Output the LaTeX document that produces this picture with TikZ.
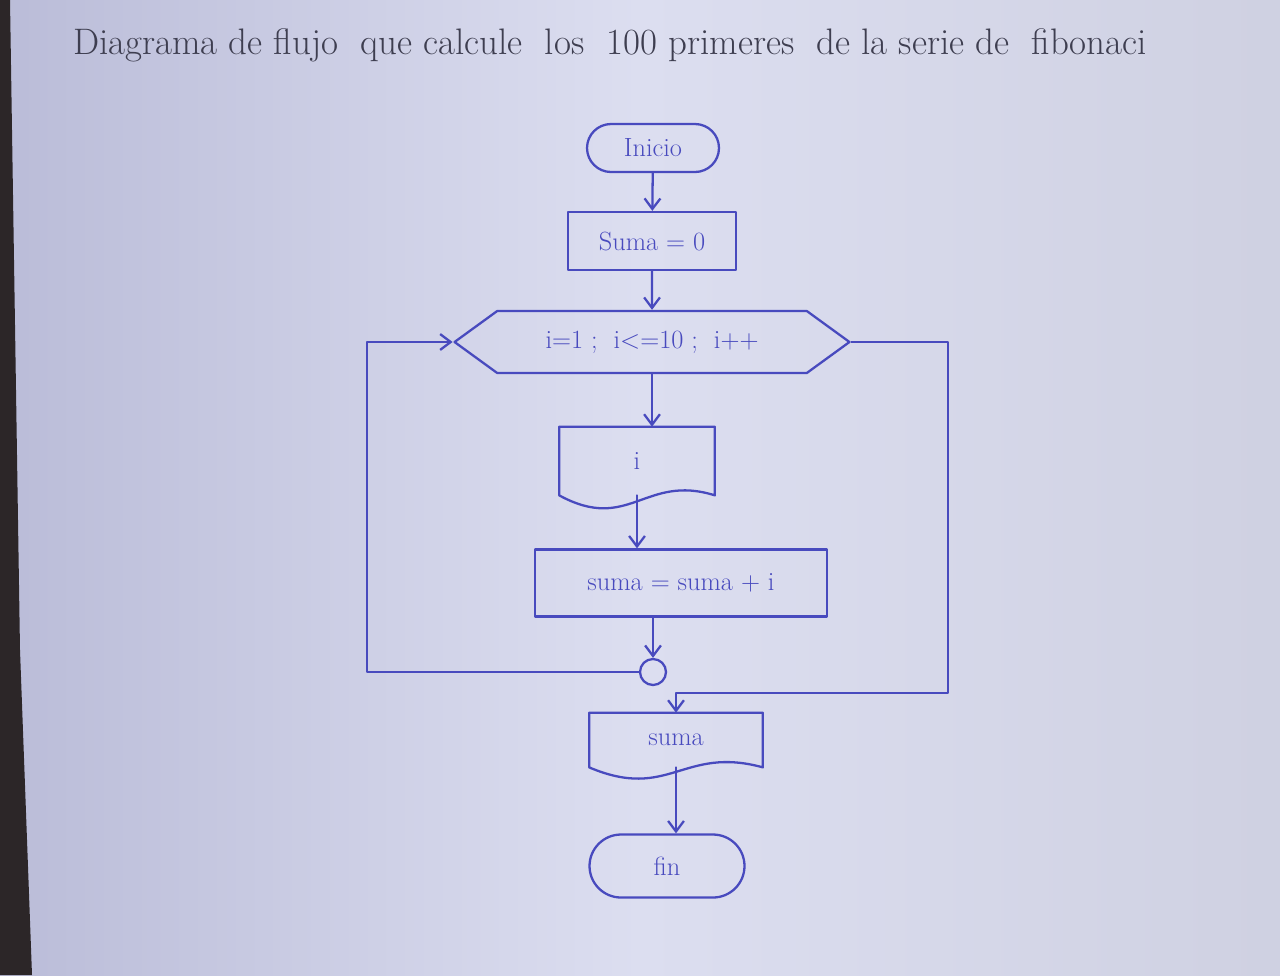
\documentclass[tikz,border=0pt]{standalone}
\usetikzlibrary{shapes.misc,shapes.symbols,arrows.meta}
\definecolor{pen}{RGB}{72,74,190}
\definecolor{ink}{RGB}{62,62,80}
\definecolor{paper}{RGB}{220,222,240}
\definecolor{paperdark}{RGB}{186,188,216}
\definecolor{wood}{RGB}{44,38,40}
\begin{document}
\begin{tikzpicture}[x=0.02cm,y=-0.02cm,line join=round,line cap=round,>={Straight Barb[length=6pt,width=9pt]},
	pen line/.style={draw=pen,line width=1.3pt},
	every node/.style={text=pen,font=\fontsize{15}{18}\selectfont}]
\tikzset{terminal/.style={pen line,rounded rectangle,inner sep=0pt},
	process/.style={pen line,rectangle,inner sep=0pt},
	loopbox/.style={pen line,signal,signal to=west and east,signal pointer angle=72,inner sep=0pt},
	docbox/.style={rectangle,inner sep=0pt},
	joint/.style={pen line,circle,inner sep=0pt,minimum size=0.52cm},
	flow/.style={pen line,->}}
% paper
\useasboundingbox (0,0) rectangle (1280,975);
\shade[left color=paperdark,right color=paper!94!black,middle color=paper] (0,0) rectangle (1280,975);
\fill[wood] (0,0)--(10,0)--(15,325)--(20,650)--(32,975)--(0,975)--cycle;
% title
\node[text=ink] (title) at (610,45) {\fontsize{21}{24}\selectfont Diagrama de flujo \ que calcule \ los \ 100 primeres \ de la serie de \ fibonaci};
% nodes
\node[terminal,minimum width=2.64cm,minimum height=0.96cm] (ini) at (653,148) {Inicio};
\node[process,minimum width=3.36cm,minimum height=1.16cm] (suma0) at (652,241) {Suma = 0};
\node[loopbox,minimum width=7.9cm,minimum height=1.24cm] (loop) at (652,342) {i=1 ; \ i<=10 ; \ i++};
\node[docbox,minimum width=3.1cm,minimum height=1.36cm] (doci) at (637,461) {i};
\node[process,minimum width=5.84cm,minimum height=1.34cm] (proc) at (681,583) {suma = suma + i};
\node[joint] (conn) at (653,672) {};
\node[docbox,minimum width=3.46cm,minimum height=1.08cm] (docs) at (676,740) {suma};
\node[terminal,minimum width=3.1cm,minimum height=1.26cm] (fin) at (667,866) {fin};
\coordinate (backleft) at (367,500);
\coordinate (backright) at (948,693);
% document outlines
\draw[pen line] (doci.north west)--(doci.north east)--(doci.south east)
	.. controls +(-70,-22) and +(70,38) .. (doci.south west)--cycle;
\draw[pen line] (docs.north west)--(docs.north east)--(docs.south east)
	.. controls +(-80,-22) and +(80,34) .. (docs.south west)--cycle;
% connectors
\draw[flow] (ini)--(suma0);
\draw[flow] (suma0)--(loop);
\draw[flow] (loop.south)--(loop.south |- doci.north);
\draw[flow] (doci.south)--(doci.south |- proc.north);
\draw[flow] (proc.south -| conn)--(conn);
\draw[flow] (conn.west) -| (backleft) |- (loop.west);
\draw[flow] (loop.east) -| (backright) -| (docs.north);
\draw[flow] (docs.south)--(docs.south |- fin.north);
\end{tikzpicture}
\end{document}
